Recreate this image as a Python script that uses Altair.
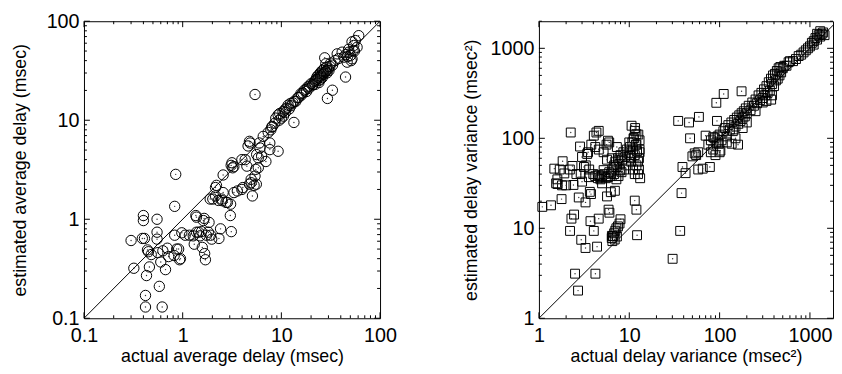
import altair as alt
import pandas as pd

# ---------------- data ----------------
avg_actual = [0.30,0.32,0.40,0.40,0.39,0.41,0.42,0.42,0.43,0.44,0.45,0.46,0.48,0.55,0.55,0.56,0.55,0.58,0.60,0.62,
              0.63,0.67,0.70,0.72,0.83,0.83,0.85,0.82,0.87,0.91,0.93,0.95,0.98,1.06,1.17,1.28,1.31,1.36,1.38,1.38,
              1.45,1.50,1.55,1.62,1.65,1.58,1.67,1.70,1.74,1.82,1.85,1.92,1.97,2.02,2.15,2.15,2.33,2.42,2.48,2.51,
              2.57,2.57,2.75,2.84,3.04,3.06,3.11,3.16,3.21,3.31,3.58,3.98,3.98,4.07,4.30,4.47,4.75,4.75,4.82,4.94,
              4.94,5.09,5.29,5.41,5.5,5.58,5.62,5.84,5.84,5.98,6.07,6.31,6.55,6.97,7.36,7.64,7.64,7.82,8.07,8.58,
              9.27,8.78,9.27,9.62,10.0,10.4,10.8,11.2,11.7,12.4,13.1,13.4,13.6,14.7,15.8,16.5,17.1,17.8,18.5,19.2,
              20.0,20.7,21.5,22.4,22.9,23.6,24.2,24.7,25.1,26.1,27.1,27.5,28.2,28.8,29.3,30.4,31.6,32.9,36.8,41.3,
              44.7,43.1,46.4,48.2,50.1,52.0,53.3,54.1,56.2,58.5,60.8,5.41,52.0,48.0,55.0,51.0,
              9.5,10.5,11.0,12.0,12.5,14.0,15.0,16.0,18.0,19.0,21.0,22.0,23.0,24.0,25.0,26.0,27.0,28.0,29.0,30.0,
              31.0,26.0,24.0,22.0,25.0,27.0,29.0,8.0,33.0,35.0,38.0,45.0,47.0,3.1,3.3,4.6,2.2,1.9,2.3]
avg_estimated = [0.61,0.32,1.09,0.97,0.64,0.64,0.17,0.13,0.27,0.49,0.47,0.33,0.44,1.0,0.74,0.46,0.63,0.21,0.37,0.13,
                 0.48,0.31,0.51,0.42,1.35,0.69,2.84,0.43,0.50,0.50,0.39,0.40,0.73,0.69,0.69,0.68,0.56,1.09,1.05,0.74,
                 0.74,0.68,0.75,0.97,1.02,0.52,0.45,0.39,0.69,0.74,0.93,0.69,0.63,1.60,1.72,2.09,0.64,0.80,1.60,1.54,
                 1.86,2.80,1.48,1.48,1.09,1.42,0.75,3.72,3.31,1.86,1.93,4.0,2.0,2.09,4.0,3.44,6.12,2.26,5.89,2.53,
                 2.34,1.72,2.2,2.73,3.19,2.26,4.5,4.17,3.31,5.89,5.25,4.33,6.87,3.83,7.54,5.89,5.05,8.0,8.66,9.33,
                 4.86,10.5,11.3,11.7,10.5,12.2,12.7,13.2,14.2,14.8,15.0,9.5,15.6,16.9,18.6,18.9,20.1,20.5,21.7,22.1,
                 23.4,22.6,24.4,25.7,27.3,28.4,25.3,29.5,30.6,31.8,33.0,42.7,37.2,34.4,16.6,31.8,37.8,20.1,46.8,48.7,
                 27.3,43.4,38.6,48.7,45.1,41.7,50.6,56.9,63.8,54.6,71.5,18.2,62.0,52.0,50.0,40.0,
                 10.0,11.0,12.0,13.0,14.0,15.5,17.0,18.0,19.5,21.0,23.0,25.0,26.0,27.0,28.0,29.0,30.0,31.0,32.0,33.0,
                 35.0,27.0,24.0,23.0,26.0,29.0,30.0,8.5,36.0,40.0,42.0,46.0,44.0,3.5,3.4,5.5,2.2,1.6,1.55]

var_actual = [1.09,1.36,1.48,1.55,1.61,1.78,1.83,1.91,2.25,2.21,2.29,2.45,2.35,2.41,2.51,2.71,2.76,2.85,2.9,2.94,
              3.0,3.15,3.28,3.28,3.42,3.57,3.66,3.72,3.77,4.05,4.05,4.22,4.33,4.40,4.59,4.59,4.59,4.79,5.0,5.2,
              5.67,5.67,5.81,5.9,6.03,6.25,6.3,6.42,6.4,6.6,6.8,7.0,7.2,7.5,7.8,6.5,6.9,7.3,6.93,7.29,
              7.6,7.93,8.0,10.6,11.5,12.0,11.5,12.0,12.2,
              10.0,10.5,11.0,11.5,12.0,12.5,13.0,12.8,11.2,10.2,
              4.0,4.2,4.5,4.8,5.0,5.3,5.5,5.8,6.0,6.2,6.5,6.8,7.0,7.2,7.5,7.8,8.0,8.3,8.6,9.0,
              9.4,9.8,10.2,10.5,10.8,11.0,11.2,11.5,11.8,12.0,12.2,12.5,12.8,13.0,13.2,13.0,12.6,11.6,3.5,3.8,
              4.2,4.6,5.2,5.6,6.0,6.4,6.8,7.2,7.6,8.2,8.8,9.2,2.0,2.2,2.6,3.0,3.3,3.6,1.6,1.8,1.7,
              34.8,45.9,59.0,47.1,38.8,42.0,37.9,36.6,30.2,50.0,53.0,55.0,58.0,58.0,65.0,78.0,70.0,93.5,92.0,111.0,
              175.0,136.0,102.0,85.0,98.0,80.0,372.0,
              75,80,85,88,92,95,100,105,110,115,120,125,130,135,140,145,150,155,160,165,
              170,175,180,185,190,195,200,210,220,230,240,250,260,270,280,290,300,310,320,330,
              340,350,360,370,380,390,400,410,420,430,440,450,460,470,480,500,520,550,580,600,
              650,700,750,800,850,900,950,1000,1050,1100,1150,1200,1250,1300,1350,1400,1450,1100,1200,1300,
              330,200,180,120,100,90,150,250,300,380,160]
var_estimated = [17.3,18.0,46.0,31.6,31.0,21.1,55.6,40.7,116.0,9.35,12.8,14.2,49.3,30.3,3.13,2.03,22.0,81.0,40.0,7.45,
                 62.0,48.0,6.04,19.4,67.0,37.0,25.4,12.0,24.0,9.35,107.0,3.13,116.0,6.25,12.8,121.0,39.0,37.0,31.6,44.3,
                 22.6,57.8,94.0,16.1,14.9,25.2,40.7,8.24,7.8,8.2,8.8,9.4,10.0,10.5,11.3,7.2,7.5,8.1,26.1,80.0,
                 57.0,44.0,12.6,138.0,121.0,111.0,20.3,16.1,8.38,
                 90.0,60.0,75.0,40.0,85.0,55.0,70.0,45.0,100.0,65.0,
                 40,38,36,35,38,40,36,37,42,38,45,50,55,48,60,52,65,58,70,62,
                 75,68,80,55,90,45,100,65,85,50,72,40,60,95,36,75,110,130,70,85,
                 80,75,70,85,90,60,40,35,38,42,45,50,30,45,40,33,50,45,35,30,45,
                 156.0,150.0,173.0,100.0,48.0,41.0,24.6,9.35,4.58,63.0,68.0,65.0,70.0,45.0,46.0,48.0,107.0,156.0,248.0,311.0,
                 333.0,87.0,73.0,103.0,87.0,70.0,269.0,
                 85,95,75,100,90,105,110,95,120,130,105,140,125,150,120,160,135,170,145,180,
                 155,190,170,200,175,215,190,230,205,250,230,270,245,300,265,320,280,350,300,380,
                 320,420,340,460,400,500,380,520,440,560,460,600,500,620,540,600,640,640,700,720,
                 720,760,820,850,900,950,1000,1050,1150,1200,1300,1250,1400,1350,1450,1500,1400,1100,1450,1550,
                 260,150,130,90,70,65,100,200,250,300,85]

left_ticks = [0.1, 1, 10, 100]
right_ticks = [1, 10, 100, 1000]
left_minor = [m * d for d in [0.1, 1, 10] for m in range(2, 10)]
right_minor_x = [m * d for d in [1, 10, 100] for m in range(2, 10)]
right_minor_y = right_minor_x + [2000]

avg_df = pd.DataFrame({"actual": avg_actual, "estimated": avg_estimated})
var_df = pd.DataFrame({"actual": var_actual, "estimated": var_estimated})

FONT = "Liberation Sans"
AX = dict(labelFont=FONT, titleFont=FONT, labelFontSize=20, titleFontSize=18, titleFontWeight="normal",
          labelColor="black", titleColor="black", ticks=False, domain=False, grid=False)


def panel(df, xdom, ydom, W, H, xticks, yticks, xminor, yminor, xtitle, ytitle, shape, size, ytp):
    xs = alt.Scale(type="log", domain=xdom, nice=False)
    ys = alt.Scale(type="log", domain=ydom, nice=False)
    xax = alt.Axis(values=xticks, format="~g", title=xtitle, labelFlush=False, labelPadding=8,
                   titlePadding=2, **AX)
    yax = alt.Axis(values=yticks, format="~g", title=ytitle, labelPadding=5, titlePadding=ytp, **AX)
    pts = alt.Chart(df).mark_point(shape=shape, size=size, filled=False, color="black",
                                   strokeWidth=1, opacity=1).encode(
        x=alt.X("actual:Q", scale=xs, axis=xax),
        y=alt.Y("estimated:Q", scale=ys, axis=yax),
    )
    dots = alt.Chart(df).mark_circle(size=2, color="#333", opacity=1).encode(
        x=alt.X("actual:Q", scale=xs, axis=xax),
        y=alt.Y("estimated:Q", scale=ys, axis=yax),
    )
    diag = alt.Chart(pd.DataFrame({"actual": [xdom[0], min(xdom[1], ydom[1])],
                                   "estimated": [xdom[0], min(xdom[1], ydom[1])]})).mark_line(
        color="black", strokeWidth=1, clip=True).encode(
        x=alt.X("actual:Q", scale=xs, axis=xax),
        y=alt.Y("estimated:Q", scale=ys, axis=yax),
    )
    layers = [pts, dots, diag]
    for vals, ln in [(xticks, 6), (xminor, 3)]:
        d = pd.DataFrame({"actual": [v for v in vals if xdom[0] <= v <= xdom[1]]})
        base = alt.Chart(d).mark_rule(color="black", strokeWidth=1)
        layers.append(base.encode(x=alt.X("actual:Q", scale=xs, axis=xax), y=alt.value(H), y2=alt.value(H - ln)))
        layers.append(base.encode(x=alt.X("actual:Q", scale=xs, axis=xax), y=alt.value(0), y2=alt.value(ln)))
    for vals, ln in [(yticks, 6), (yminor, 3)]:
        d = pd.DataFrame({"estimated": [v for v in vals if ydom[0] <= v <= ydom[1]]})
        base = alt.Chart(d).mark_rule(color="black", strokeWidth=1)
        layers.append(base.encode(y=alt.Y("estimated:Q", scale=ys, axis=yax), x=alt.value(0), x2=alt.value(ln)))
        layers.append(base.encode(y=alt.Y("estimated:Q", scale=ys, axis=yax), x=alt.value(W), x2=alt.value(W - ln)))
    return alt.layer(*layers).properties(width=W, height=H, view=alt.ViewBackground(stroke="black", strokeWidth=1))


left = panel(avg_df, [0.1, 100], [0.1, 100], 300, 301, left_ticks, left_ticks, left_minor, left_minor,
             "actual average delay (msec)", "estimated average delay (msec)", "circle", 110, 17)
right = panel(var_df, [1, 1800], [1, 2000], 298, 301, right_ticks, right_ticks, right_minor_x, right_minor_y,
              "actual delay variance (msec²)", "estimated delay variance (msec²)", "square", 81, 10)

chart = alt.hconcat(left, right, spacing=161, bounds="flush").properties(
    padding={"left": 3, "top": 0, "right": 0, "bottom": 0}, background="white"
).configure_view(stroke="black", strokeWidth=1)

chart.save("out.html", embed_options={"renderer": "svg", "actions": False})
